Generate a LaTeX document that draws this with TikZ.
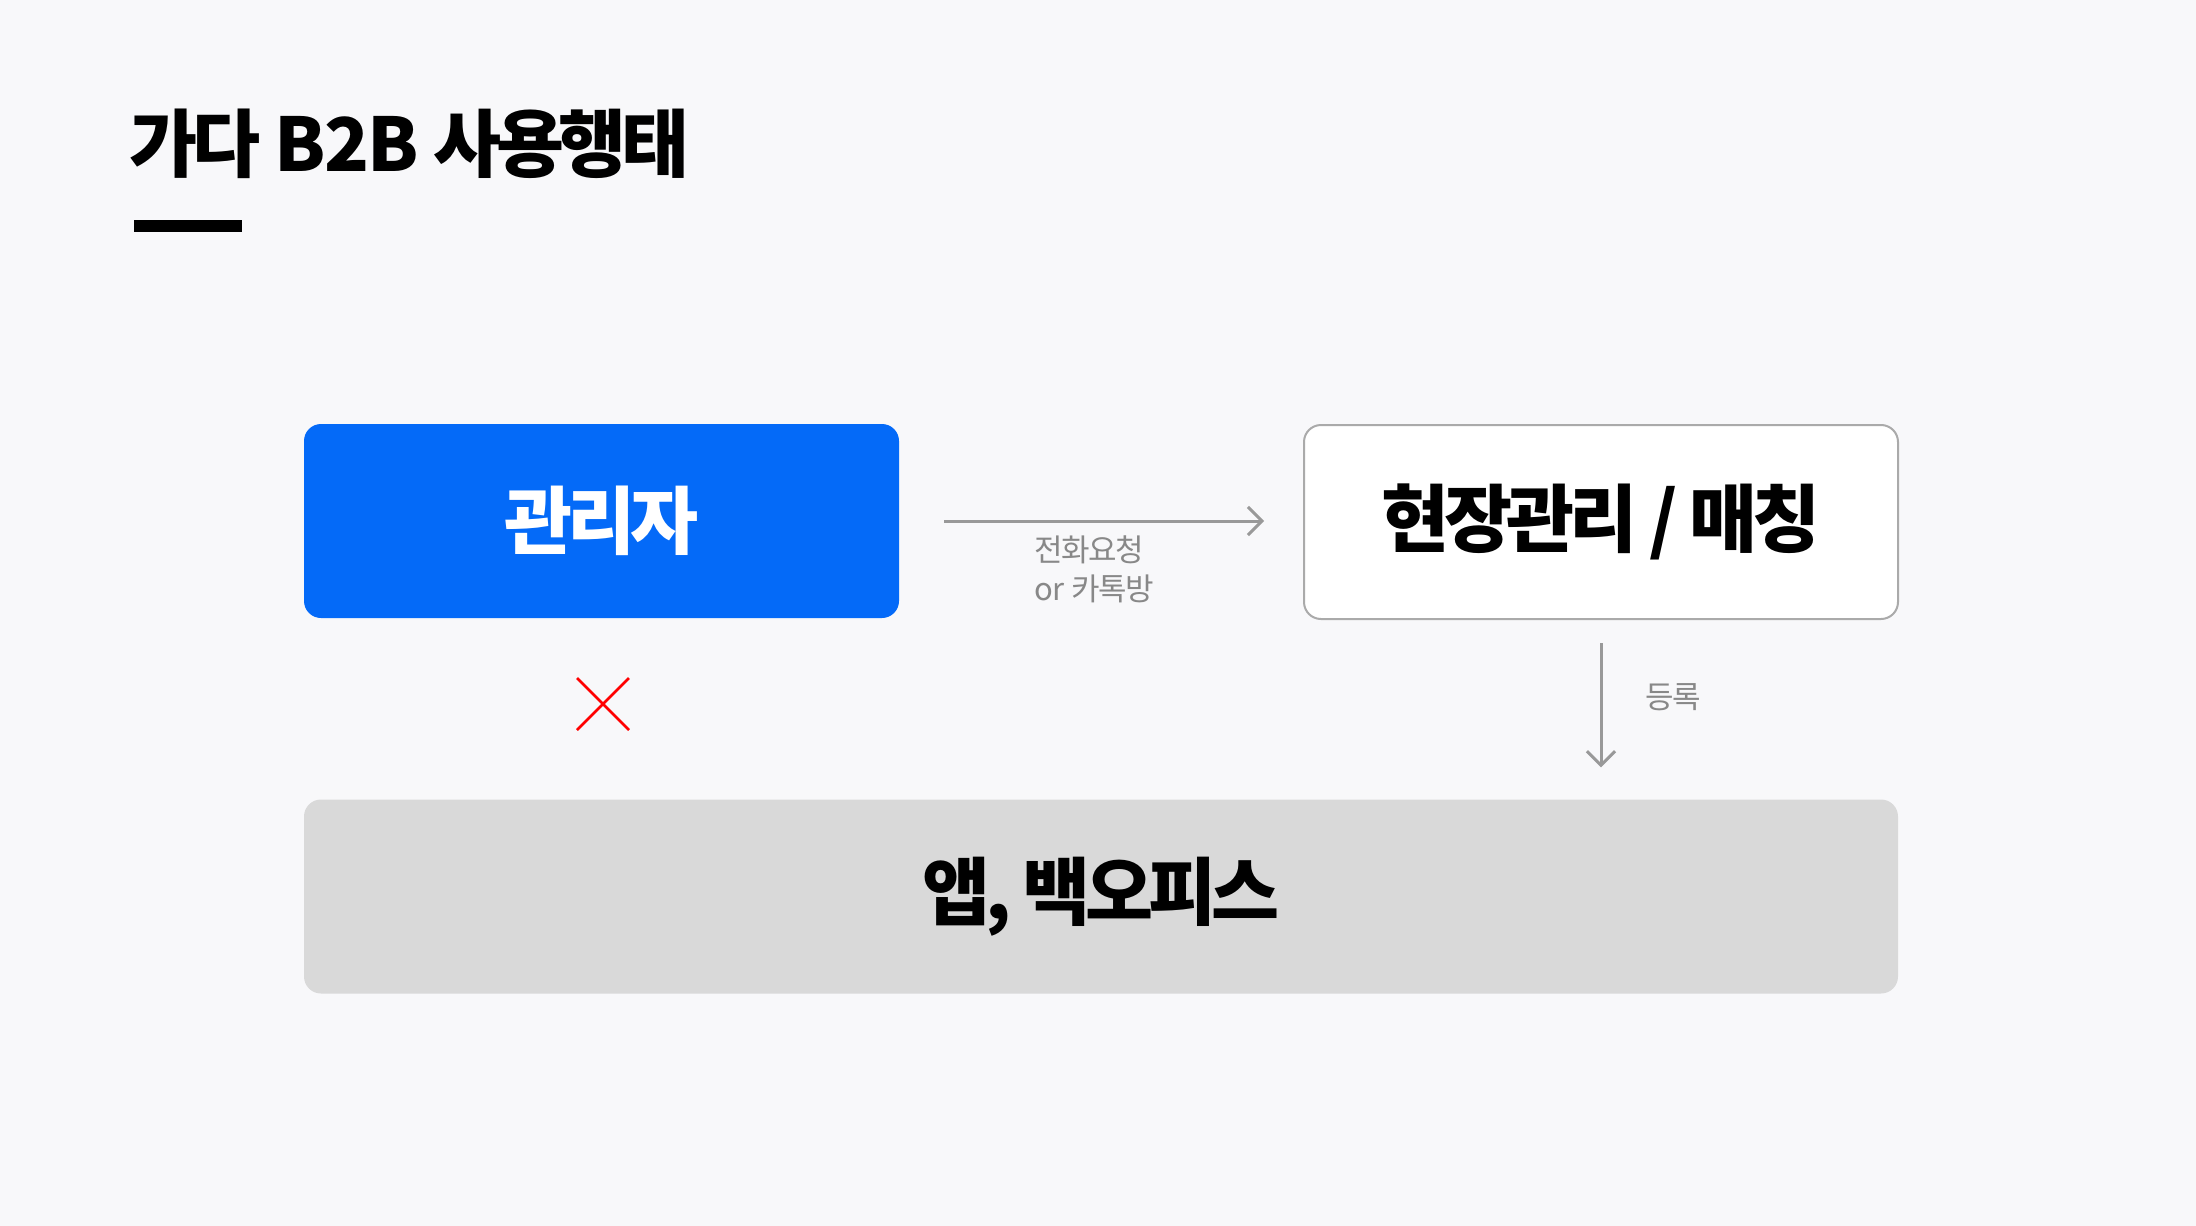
\documentclass[tikz,border=0pt]{standalone}
\usepackage{fontspec}
\usetikzlibrary{arrows.meta}
\setmainfont{Noto Sans CJK KR}
\newfontfamily\krb[LetterSpace=-7]{Noto Sans CJK KR}
\newfontfamily\krn[LetterSpace=-3]{Noto Sans CJK KR}
\newfontfamily\krs[LetterSpace=-5]{Noto Sans CJK KR}
\newfontfamily\krsn{Noto Sans CJK KR}
\definecolor{bgc}{RGB}{248,248,250}
\definecolor{bluec}{RGB}{4,106,248}
\definecolor{boxgray}{RGB}{217,217,217}
\definecolor{edgegray}{RGB}{170,170,170}
\definecolor{arrowgray}{RGB}{153,153,153}
\definecolor{labelgray}{RGB}{136,136,136}
\tikzset{
  bigbox/.style={rectangle, rounded corners=17pt, minimum height=194pt, inner sep=0pt},
  bigtext/.style={font=\krb\bfseries\fontsize{74}{86}\selectfont},
  smalltext/.style={font=\krs\fontsize{31}{39}\selectfont, text=labelgray, inner sep=0pt},
  flow/.style={draw=arrowgray, line width=3pt, -{Straight Barb[length=14pt,width=28pt]}},
}
\begin{document}
\begin{tikzpicture}[x=1pt,y=-1pt]
\fill[bgc] (0,0) rectangle (2196,1226);
\useasboundingbox (0,0) rectangle (2196,1226);
% title
\node[bigtext, anchor=west, inner sep=0pt] (title) at (129,144) {가다{\krn\bfseries\ B2B\ }사용행태};
\fill[black] (134,220) rectangle (242,232);
% boxes
\node[bigbox, fill=bluec, minimum width=595pt, text=white, bigtext] (adm) at (601.5,521) {관리자};
\node[bigbox, fill=white, draw=edgegray, line width=2pt, minimum width=594pt, bigtext] (site) at (1601,522) {현장관리 / 매칭};
\node[bigbox, fill=boxgray, minimum width=1594pt, bigtext] (app) at (1101,896.5) {앱, 백오피스};
% connectors
\draw[flow, shorten <=45pt, shorten >=39pt] (adm.east) -- (site.west |- adm.east);
\node[smalltext, anchor=north west, align=left] (lbl1) at (1034,536) {전화요청\\{\krsn or }카톡방};
\draw[flow, shorten <=23pt, shorten >=32pt] (site.south) -- (site.south |- app.north);
\node[smalltext] (lbl2) at (1673,697) {등록};
% red cross
\draw[red, line width=2.5pt] (577,678) -- (629,730);
\draw[red, line width=2.5pt] (629,678) -- (577,730);
\end{tikzpicture}
\end{document}
